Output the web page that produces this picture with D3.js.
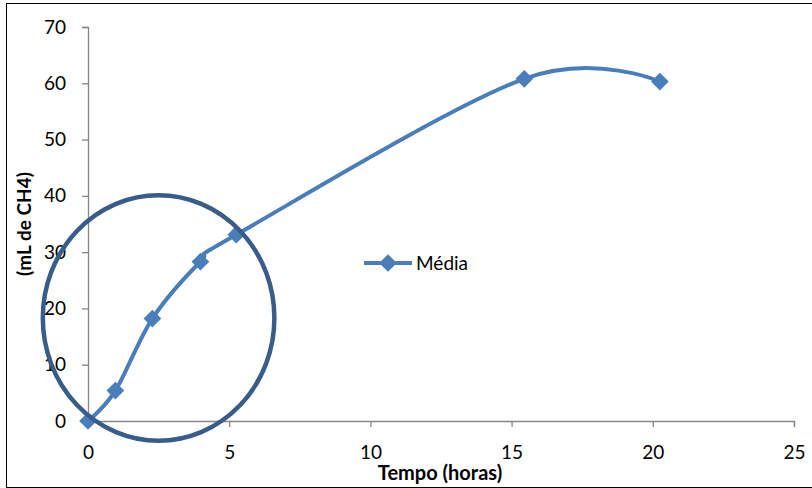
<!DOCTYPE html>
<html>
<head>
<meta charset="utf-8">
<script src="https://cdn.jsdelivr.net/npm/d3@7"></script>
<style>
  body { margin: 0; background: #fff; }
  text { font-family: Lato, "Open Sans", sans-serif; fill: #000; }
</style>
</head>
<body>
<svg id="chart" width="812" height="488"></svg>
<script>
// valeurs
const tempo = [0, 0.97, 2.28, 3.98, 5.25, 15.45, 20.25];
const media = [0, 5.4, 18.2, 28.3, 33.1, 60.8, 60.3];
const xTicks = [0, 5, 10, 15, 20, 25];
const yTicks = [0, 10, 20, 30, 40, 50, 60, 70];
const serieNom = "Média";
// ellipse d'annotation (en unités du graphique)
const ellipse = { cx: 2.5, cy: 18.3, rx: 4.1, ry: 21.8 };

const svg = d3.select("#chart");

// cadre
svg.append("rect")
  .attr("x", 6.5).attr("y", 3.5)
  .attr("width", 806).attr("height", 484)
  .attr("fill", "none").attr("stroke", "#000").attr("stroke-width", 1);

const x = d3.scaleLinear().domain([0, 25]).range([88, 794]);
const y = d3.scaleLinear().domain([0, 70]).range([421, 27]);

const axeCouleur = "#868686";

// axe Y
const gy = svg.append("g")
  .attr("transform", "translate(" + x(0) + ",0)")
  .call(d3.axisLeft(y).tickValues(yTicks).tickSize(6).tickPadding(16));
// axe X
const gx = svg.append("g")
  .attr("transform", "translate(0," + y(0) + ")")
  .call(d3.axisBottom(x).tickValues(xTicks).tickSize(6).tickPadding(19));

[gx, gy].forEach(g => {
  g.select(".domain").attr("stroke", axeCouleur).attr("stroke-width", 1.3);
  g.selectAll(".tick line").attr("stroke", axeCouleur).attr("stroke-width", 1.3);
  g.selectAll(".tick text").style("font-size", "19px").style("font-family", "Lato, sans-serif").attr("fill", "#000");
});

// titres
svg.append("text")
  .attr("transform", "translate(31,224) rotate(-90)")
  .attr("text-anchor", "middle")
  .style("font-size", "19px").style("font-weight", "bold")
  .text("(mL de CH4)");

svg.append("text")
  .attr("x", 440).attr("y", 480)
  .attr("text-anchor", "middle")
  .style("font-size", "20px").style("font-weight", "bold")
  .text("Tempo (horas)");

const bleu = "#4a7ebb";
const points = tempo.map((t, i) => [t, media[i]]);

// courbe lissée
const ligne = d3.line()
  .x(d => x(d[0]))
  .y(d => y(d[1]))
  .curve(d3.curveCatmullRom.alpha(0));

svg.append("path")
  .datum(points)
  .attr("d", ligne)
  .attr("fill", "none")
  .attr("stroke", bleu)
  .attr("stroke-width", 4);

const losange = d3.symbol().type(d3.symbolDiamond2).size(200);

svg.selectAll(".marqueur")
  .data(points)
  .enter()
  .append("path")
  .attr("class", "marqueur")
  .attr("d", losange)
  .attr("transform", d => "translate(" + x(d[0]) + "," + y(d[1]) + ")")
  .attr("fill", bleu);

// ellipse
svg.append("ellipse")
  .attr("cx", x(ellipse.cx))
  .attr("cy", y(ellipse.cy))
  .attr("rx", x(ellipse.rx) - x(0))
  .attr("ry", y(0) - y(ellipse.ry))
  .attr("fill", "none")
  .attr("stroke", "#385d8a")
  .attr("stroke-width", 4.5);

// légende
const leg = svg.append("g").attr("transform", "translate(364,263)");
leg.append("line")
  .attr("x1", 0).attr("x2", 48).attr("y1", 0).attr("y2", 0)
  .attr("stroke", bleu).attr("stroke-width", 4);
leg.append("path")
  .attr("d", losange)
  .attr("transform", "translate(24,0)")
  .attr("fill", bleu);
leg.append("text")
  .attr("x", 52).attr("y", 7)
  .style("font-size", "19px")
  .text(serieNom);
</script>
</body>
</html>
